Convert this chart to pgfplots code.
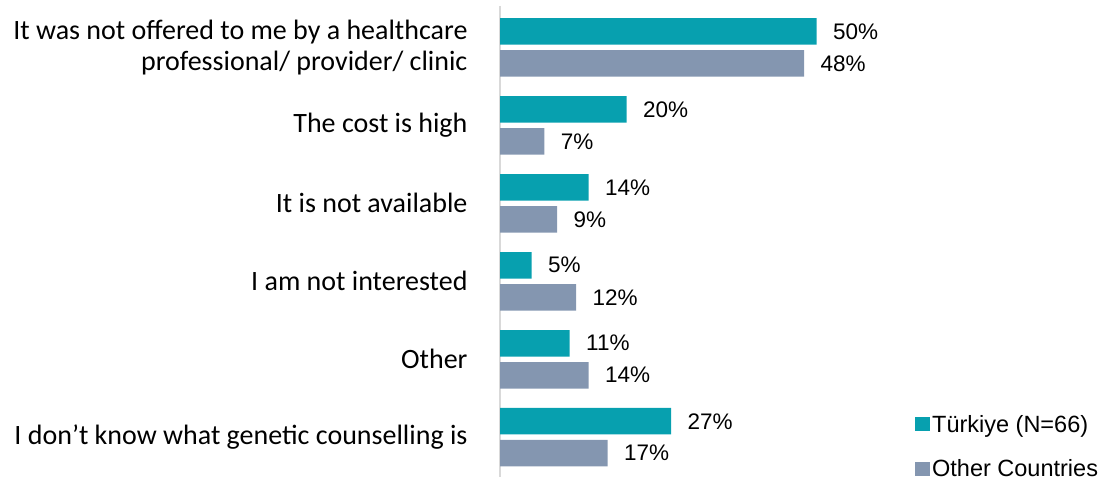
\documentclass[border=0pt]{standalone}
\usepackage{pgfplots}
\pgfplotsset{compat=1.18}
\usepackage{fontspec}
\setmainfont{Liberation Sans}
\newfontfamily\calfont{Carlito}
\definecolor{teal1}{HTML}{07A0AF}
\definecolor{grey1}{HTML}{8496B0}
\definecolor{axgrey}{HTML}{D9D9D9}
\begin{document}
\begin{tikzpicture}[x=1pt,y=1pt]
\path[use as bounding box] (0,0) rectangle (1108,481);
\begin{axis}[
  at={(500pt,4pt)}, anchor=south west,
  scale only axis, width=380pt, height=471pt,
  xbar, bar width=26.5pt,
  xmin=0, xmax=60, ymin=-0.53, ymax=5.51, y dir=reverse,
  enlarge x limits=false, enlarge y limits=false,
  hide x axis,
  axis y line*=left,
  y axis line style={draw=axgrey, line width=1.6pt, -},
  ytick={0,1,2,3,4,5}, major tick length=0pt,
  yticklabels={{It was not offered to me by a healthcare\\professional/ provider/ clinic},{The cost is high},{It is not available},{I am not interested},{Other},{I don’t know what genetic counselling is}},
  yticklabel style={font=\calfont\fontsize{28}{31}\selectfont, align=right, xshift=-29pt},
  /pgf/number format/assume math mode=true,
  nodes near coords={\pgfmathprintnumber{\pgfplotspointmeta}\%},
  nodes near coords style={font=\fontsize{22.5}{26}\selectfont, anchor=west, xshift=13pt, text=black},
  legend style={at={(1.092,0.136)}, anchor=north west, draw=none, fill=none, font=\fontsize{23.5}{27}\selectfont, row sep=22pt, legend cell align=left, inner sep=0pt},
  legend image code/.code={\fill[#1] (0pt,-7pt) rectangle (15pt,7pt);},
]
\addplot[fill=teal1, draw=none, bar shift=16pt] coordinates {(50,0) (20,1) (14,2) (5,3) (11,4) (27,5)};
\addplot[fill=grey1, draw=none, bar shift=-16pt] coordinates {(48,0) (7,1) (9,2) (12,3) (14,4) (17,5)};
\legend{Türkiye (N=66), Other Countries}
\end{axis}
\end{tikzpicture}
\end{document}
